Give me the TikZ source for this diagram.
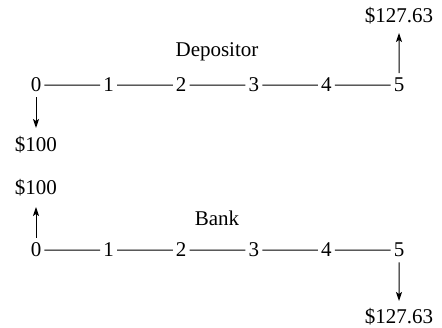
\documentclass[tikz,border=0pt]{standalone}
\usepackage{fontspec}
\setmainfont{Liberation Serif}
\usetikzlibrary{arrows.meta}
\begin{document}
\begin{tikzpicture}[x=1pt,y=-1pt,
  every node/.style={font=\fontsize{21}{25}\selectfont},
  digit/.style={inner sep=3pt,anchor=base},
  lbl/.style={inner sep=0pt,anchor=base},
  tl/.style={line width=1pt},
  arr/.style={line width=1pt,-{Stealth[length=9pt,width=6pt,inset=2pt]},shorten <=2pt}]
\useasboundingbox (0,0) rectangle (442,328);
% Depositor
\node[lbl] (dep) at (217,57) {Depositor};
\foreach \i in {0,...,5}{
  \node[digit] (t\i) at ({36+72.6*\i},92) {\i};
}
\foreach \i/\j in {0/1,1/2,2/3,3/4,4/5}{
  \draw[tl] (t\i) -- (t\j);
}
\node[lbl] (tm0) at (36,152) {\$100};
\node[lbl] (tm5) at (399,23) {\$127.63};
\coordinate (tc0) at (36,128);
\coordinate (tc5) at (399,33);
\draw[arr] (t0.south) -- (tc0);
\draw[arr] (t5.north) -- (tc5);
% Bank
\node[lbl] (bank) at (217,226) {Bank};
\foreach \i in {0,...,5}{
  \node[digit] (b\i) at ({36+72.6*\i},257) {\i};
}
\foreach \i/\j in {0/1,1/2,2/3,3/4,4/5}{
  \draw[tl] (b\i) -- (b\j);
}
\node[lbl] (bm0) at (36,195) {\$100};
\node[lbl] (bm5) at (399,324) {\$127.63};
\coordinate (bc0) at (36,207);
\coordinate (bc5) at (399,301);
\draw[arr] (b0.north) -- (bc0);
\draw[arr] (b5.south) -- (bc5);
\end{tikzpicture}
\end{document}
